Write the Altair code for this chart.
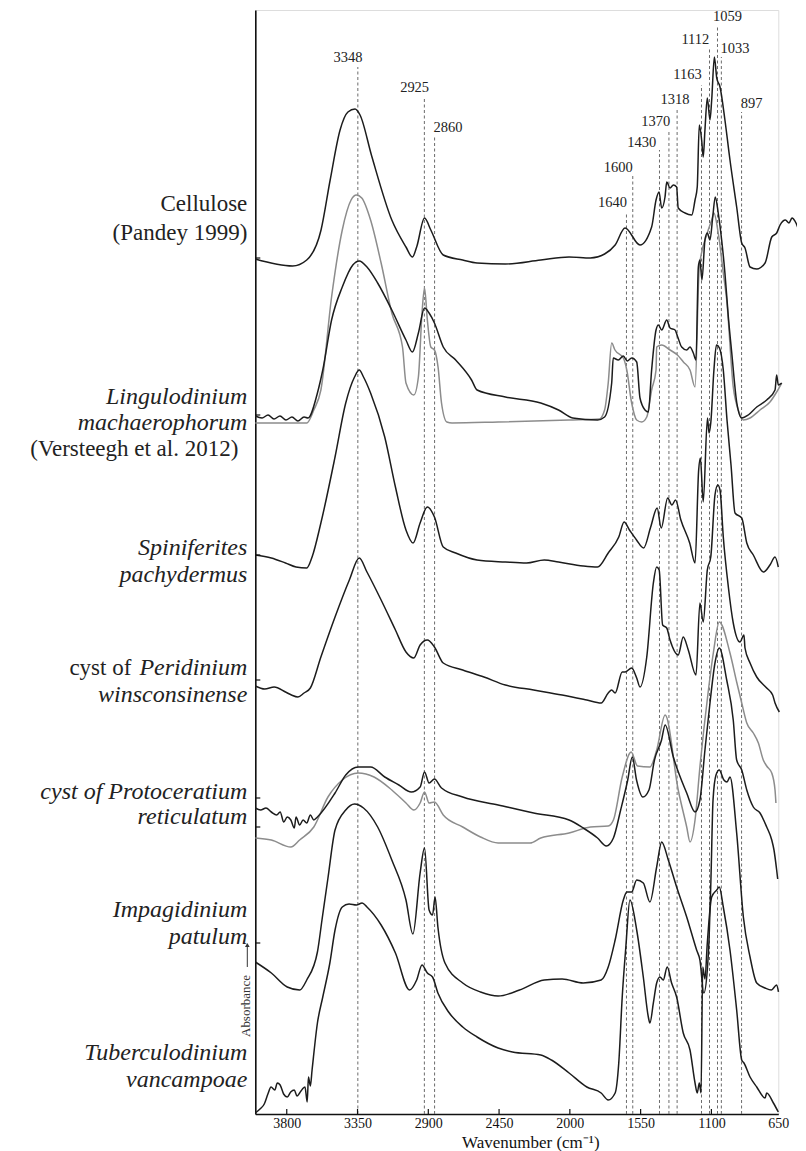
import altair as alt
import pandas as pd

# ---------------- spectra (wavenumber cm-1 / stacked absorbance units) ----------------
cellulose_wn = [4000,3763,3673,3582,3524,3461,3411,3366,3334,3260,3132,3042,3001,2974,2924,2884,2805,2681,2590,2410,2185,2005,1869,1779,1712,1649,1554,1480,1452,1433,1416,1395,1384,1363,1342,1321,1311,1268,1225,1204,1190,1177,1162,1152,1141,1126,1109,1098,1080,1064,1042,1009,975,930,896,874,840,795,739,694,661,638,602,578,558,531,495,464]
cellulose_abs = [855,848,854,884,934,984,1002,1005,999,958,894,867,857,867,896,884,859,854,851,850,854,857,856,860,869,886,869,887,914,922,906,917,932,926,929,927,906,901,899,914,927,989,974,957,984,1016,994,1014,1057,1036,1027,994,954,907,871,866,847,845,851,877,881,889,894,891,896,891,876,866]

ling_wn = [4000,3957,3919,3881,3843,3805,3767,3729,3690,3665,3605,3571,3515,3447,3380,3339,3290,3222,3132,3042,3001,2963,2924,2895,2861,2805,2726,2625,2590,2410,2185,2072,1982,1824,1779,1734,1724,1692,1660,1635,1607,1575,1554,1522,1501,1480,1452,1437,1416,1384,1363,1331,1314,1289,1257,1236,1215,1198,1183,1173,1160,1141,1126,1109,1091,1074,1054,1031,1009,986,963,929,896,852,795,728,672,661,650,627]
ling_abs = [698,696,699,695,698,694,697,693,697,696,721,744,794,827,849,853,847,831,804,774,762,781,806,801,791,767,754,734,724,717,711,704,696,694,697,731,756,754,758,753,756,752,716,704,702,744,784,789,784,794,786,784,777,767,764,767,761,754,847,854,834,874,881,874,897,917,901,874,841,797,761,711,696,699,707,714,724,739,729,731]

ling_gray_wn = [4000,3673,3628,3583,3515,3447,3391,3357,3323,3267,3200,3132,3064,3042,2992,2963,2940,2924,2906,2884,2861,2838,2816,2782,2749,2456,2005,1813,1779,1756,1734,1713,1660,1638,1607,1575,1543,1511,1480,1452,1448,1416,1363,1316,1278,1236,1204,1177,1126,1098,1083,1054,1020,997,953,919,885,840,773,706,661,627]
ling_gray_abs = [691,691,704,724,817,884,914,919,916,894,851,801,767,731,719,737,801,826,794,767,764,747,711,692,691,692,694,695,704,731,771,764,756,744,711,694,692,697,724,744,767,769,764,759,752,744,727,847,881,894,901,881,841,814,727,704,694,696,704,712,722,731]

spin_wn = [4000,3898,3808,3741,3673,3639,3583,3493,3425,3369,3339,3312,3267,3177,3109,3042,2997,2952,2906,2861,2805,2726,2590,2410,2275,2163,2072,1915,1824,1756,1689,1655,1621,1576,1531,1486,1445,1419,1378,1351,1328,1294,1238,1204,1181,1170,1152,1125,1115,1104,1083,1066,1046,1020,995,968,941,896,862,818,750,706,672,650]
spin_abs = [559,556,551,547,546,557,591,657,711,737,744,737,721,677,627,584,571,591,607,597,567,561,554,552,551,554,552,548,547,561,577,592,584,574,566,587,606,586,616,609,614,594,571,551,644,656,612,696,681,691,744,769,766,744,694,649,601,596,571,559,542,549,557,547]

peri_wn = [4000,3940,3880,3808,3770,3729,3690,3650,3583,3493,3402,3339,3290,3200,3109,3042,2992,2952,2906,2861,2805,2681,2546,2410,2230,2049,1892,1801,1756,1734,1712,1667,1649,1607,1575,1554,1511,1469,1448,1432,1410,1384,1363,1311,1279,1247,1198,1173,1152,1126,1104,1076,1057,1042,1020,986,953,908,881,874,840,795,728,688,672,643]
peri_abs = [428,425,427,422,419,417,421,426,457,497,534,556,542,514,484,462,456,469,474,467,451,444,437,429,424,419,414,411,421,424,421,442,442,446,436,427,457,531,547,544,489,486,474,459,477,464,439,511,492,544,557,619,629,624,577,527,491,472,479,466,451,437,426,419,411,402]

proto_wn = [4000,3966,3932,3898,3864,3842,3819,3797,3774,3752,3741,3718,3696,3673,3650,3628,3605,3493,3425,3346,3267,3177,3087,3008,2952,2924,2895,2861,2816,2681,2456,2230,2005,1915,1824,1768,1723,1677,1632,1603,1576,1536,1497,1462,1417,1394,1342,1257,1204,1173,1141,1109,1076,1047,997,953,930,896,862,818,773,728,694,679,661,654]
proto_abs = [306,304,306,302,299,302,292,297,294,286,297,289,294,291,299,294,297,321,339,347,347,337,329,322,327,342,331,335,326,317,309,301,294,286,276,268,276,304,334,357,334,317,324,354,374,389,357,321,302,314,364,411,451,466,434,394,354,344,324,307,301,287,274,264,244,235]

proto_gray_wn = [4000,3898,3774,3718,3628,3538,3447,3346,3245,3132,3042,2992,2952,2924,2895,2861,2805,2681,2568,2456,2253,2185,2005,1869,1756,1723,1667,1610,1570,1491,1448,1394,1311,1257,1236,1204,1173,1122,1087,1047,975,930,896,862,818,784,751,728,694,672,666]
proto_gray_abs = [276,274,267,274,287,317,334,341,337,324,311,304,311,322,311,312,299,287,277,271,271,276,281,287,288,294,337,362,348,347,364,399,324,287,272,294,347,420,461,492,461,432,411,391,381,371,354,348,341,324,311]

impa_wn = [4000,3898,3797,3718,3673,3605,3576,3538,3493,3425,3369,3312,3222,3132,3042,2998,2952,2924,2895,2873,2857,2839,2794,2681,2568,2456,2320,2163,2049,1915,1801,1756,1712,1660,1638,1607,1575,1533,1491,1448,1416,1374,1321,1257,1194,1173,1148,1126,1115,1103,1089,1069,1047,1016,995,975,930,885,840,795,739,697,661,649]
impa_abs = [152,141,127,124,134,162,194,236,284,304,310,306,287,254,214,180,241,266,204,199,217,187,151,131,122,118,124,134,135,131,134,147,174,214,222,222,234,231,212,247,272,254,227,197,164,154,121,144,174,234,314,339,344,334,332,337,281,197,157,131,126,124,129,122]

tube_wn = [4000,3970,3943,3920,3900,3876,3860,3842,3820,3797,3775,3752,3735,3718,3700,3684,3670,3662,3650,3639,3605,3571,3526,3493,3447,3404,3357,3321,3290,3200,3109,3019,2974,2940,2906,2873,2839,2771,2681,2590,2456,2365,2185,2117,2005,1892,1801,1756,1712,1689,1667,1644,1618,1575,1533,1501,1491,1469,1448,1427,1406,1381,1353,1321,1279,1236,1204,1190,1177,1166,1155,1141,1126,1098,1064,1047,1020,975,930,896,881,840,795,739,728,683,650]
tube_abs = [1,5,10,20,27,24,31,29,20,17,22,24,18,21,25,27,12,37,28,44,91,117,151,184,207,210,209,211,207,189,161,124,134,149,141,137,121,102,87,77,66,62,59,54,41,27,21,14,21,51,117,167,214,184,137,97,91,111,131,137,134,147,131,117,81,64,31,21,31,21,147,135,171,217,224,227,207,164,104,54,51,37,27,16,21,11,2]

spectra = [
    ("Cellulose", "black", cellulose_wn, cellulose_abs),
    ("Lingulodinium", "black", ling_wn, ling_abs),
    ("Lingulodinium (ref)", "gray", ling_gray_wn, ling_gray_abs),
    ("Spiniferites", "black", spin_wn, spin_abs),
    ("Peridinium", "black", peri_wn, peri_abs),
    ("Protoceratium", "black", proto_wn, proto_abs),
    ("Protoceratium (2)", "gray", proto_gray_wn, proto_gray_abs),
    ("Impagidinium", "black", impa_wn, impa_abs),
    ("Tuberculodinium", "black", tube_wn, tube_abs),
]

# ---------------- peak annotations ----------------
peak_wn = [3348, 2925, 2860, 1640, 1600, 1430, 1370, 1318, 1163, 1112, 1059, 1033, 897]
peak_top = [1047, 1017, 977, 901, 939, 964, 984, 1006, 1029, 1066, 1089, 1057, 1002]
peak_label_wn = [3411, 2987, 2775, 1729, 1692, 1543, 1454, 1332, 1252, 1202, 992, 941, 829]
peak_label_abs = [1056, 1026, 986, 911, 946, 971, 992, 1014, 1039, 1074, 1097, 1065, 1010]

# ---------------- axis ticks ----------------
x_ticks = [3800, 3350, 2900, 2450, 2000, 1550, 1100, 650]
y_marks = [856, 699, 559, 434, 316, 287, 171]

# ---------------- sample names ----------------
upright_text = ["Cellulose", "(Pandey 1999)"]
upright_abs = [910, 881]
italic_text = ["Lingulodinium", "machaerophorum", "Spiniferites", "pachydermus",
               "Peridinium", "winsconsinense", "cyst of Protoceratium", "reticulatum",
               "Impagidinium", "patulum", "Tuberculodinium", "vancampoae"]
italic_abs = [717, 691, 566, 539, 446, 419, 322, 297, 204, 177, 61, 34]
ref_text = ["(Versteegh et al. 2012)"]
ref_abs = [665]
cyst_text = ["cyst of"]
cyst_abs = [446]

# ---------------- build tables ----------------
rows = []
for name, tone, wn, ab in spectra:
    for i, (w, a) in enumerate(zip(wn, ab)):
        rows.append({"spectrum": name, "tone": tone, "wn": w, "abs": a, "idx": i})
spec_df = pd.DataFrame(rows)

peaks_df = pd.DataFrame({"wn": peak_wn, "top": peak_top, "zero": [0] * len(peak_wn),
                         "lwn": peak_label_wn, "labs": peak_label_abs,
                         "txt": [str(p) for p in peak_wn]})
xt_df = pd.DataFrame({"wn": x_ticks[:-1]})
yt_df = pd.DataFrame({"abs": y_marks})
up_df = pd.DataFrame({"t": upright_text, "abs": upright_abs})
it_df = pd.DataFrame({"t": italic_text, "abs": italic_abs})
ref_df = pd.DataFrame({"t": ref_text, "abs": ref_abs})
cyst_df = pd.DataFrame({"t": cyst_text, "abs": cyst_abs})
one = pd.DataFrame({"a": [0]})

FONT = "Liberation Serif"
W, H = 523, 1104
xscale = alt.Scale(domain=[4000, 1100, 650], range=[0, 456.1, 523], nice=False, zero=False)
yscale = alt.Scale(domain=[0, H], nice=False, zero=False)
xaxis = alt.Axis(values=x_ticks, format="d", ticks=False, domain=True, domainColor="#111",
                 domainWidth=1.6, grid=False, labelFont=FONT, labelFontSize=14,
                 labelColor="#111", labelPadding=3, labelFlush=False, labelOverlap=False,
                 title="Wavenumber (cm⁻¹)", titleFont=FONT, titleFontSize=17,
                 titleFontWeight="normal", titleColor="#111", titleX=275, titleY=34,
                 titleBaseline="alphabetic")
yaxis = alt.Axis(domain=True, domainColor="#111", domainWidth=1.6, ticks=False,
                 labels=False, grid=False, title="")


def X(f):
    return alt.X(f, type="quantitative", scale=xscale, axis=xaxis)


def Y(f):
    return alt.Y(f, type="quantitative", scale=yscale, axis=yaxis)


dashed = alt.Chart(peaks_df).mark_rule(color="#6a6a6a", strokeWidth=1, strokeDash=[3, 2.5]).encode(
    x=X("wn"), y=Y("zero"), y2=alt.Y2("top"))

gray = alt.Chart(spec_df).transform_filter(alt.datum.tone == "gray").mark_line(
    color="#8c8c8c", strokeWidth=1.5, strokeJoin="round", interpolate="monotone").encode(
    x=X("wn"), y=Y("abs"), detail="spectrum:N", order="idx:Q")

black = alt.Chart(spec_df).transform_filter(alt.datum.tone == "black").mark_line(
    color="#1c1c1c", strokeWidth=1.5, strokeJoin="round", interpolate="monotone").encode(
    x=X("wn"), y=Y("abs"), detail="spectrum:N", order="idx:Q")

peak_labels = alt.Chart(peaks_df).mark_text(font=FONT, fontSize=14.5, color="#222",
                                            baseline="middle", align="center").encode(
    x=X("lwn"), y=Y("labs"), text="txt:N")

xticks = alt.Chart(xt_df).mark_rule(color="#111", strokeWidth=1.2).encode(
    x=X("wn"), y=alt.value(H), y2=alt.value(H - 5))
yticks = alt.Chart(yt_df).mark_rule(color="#111", strokeWidth=1.2).encode(
    x=alt.value(0), x2=alt.value(5), y=Y("abs"))

up_lab = alt.Chart(up_df).mark_text(font=FONT, fontSize=23, align="right", baseline="middle",
                                    color="#222").encode(x=alt.value(-8), y=Y("abs"), text="t:N")
it_lab = alt.Chart(it_df).mark_text(font=FONT, fontSize=24, fontStyle="italic", align="right",
                                    baseline="middle", color="#222").encode(
    x=alt.value(-8), y=Y("abs"), text="t:N")
ref_lab = alt.Chart(ref_df).mark_text(font=FONT, fontSize=23, align="right", baseline="middle",
                                      color="#222").encode(x=alt.value(-17), y=Y("abs"), text="t:N")
cyst_lab = alt.Chart(cyst_df).mark_text(font=FONT, fontSize=23, align="right", baseline="middle",
                                        color="#222").encode(x=alt.value(-124), y=Y("abs"), text="t:N")

absorb = alt.Chart(one).mark_text(text="Absorbance", font=FONT, fontSize=13, angle=270,
                                  align="center", baseline="middle", color="#333").encode(
    x=alt.value(-9), y=alt.value(996))
arrow = alt.Chart(one).mark_rule(color="#333", strokeWidth=1).encode(
    x=alt.value(-8), y=alt.value(935), y2=alt.value(957))
arrow_head = alt.Chart(one).mark_point(shape="triangle-up", filled=True, size=22, color="#333",
                                       opacity=1).encode(x=alt.value(-8), y=alt.value(935))

chart = alt.layer(dashed, gray, black, peak_labels, xticks, yticks, up_lab, it_lab, ref_lab,
                  cyst_lab, absorb, arrow, arrow_head).properties(
    width=W, height=H, padding={"left": 247.3, "top": 2, "right": 19, "bottom": 37},
    autosize=alt.AutoSizeParams(type="none")
).configure_view(stroke=None).configure(background="white")

chart.save("out.html", embed_options={"renderer": "svg", "actions": False})
